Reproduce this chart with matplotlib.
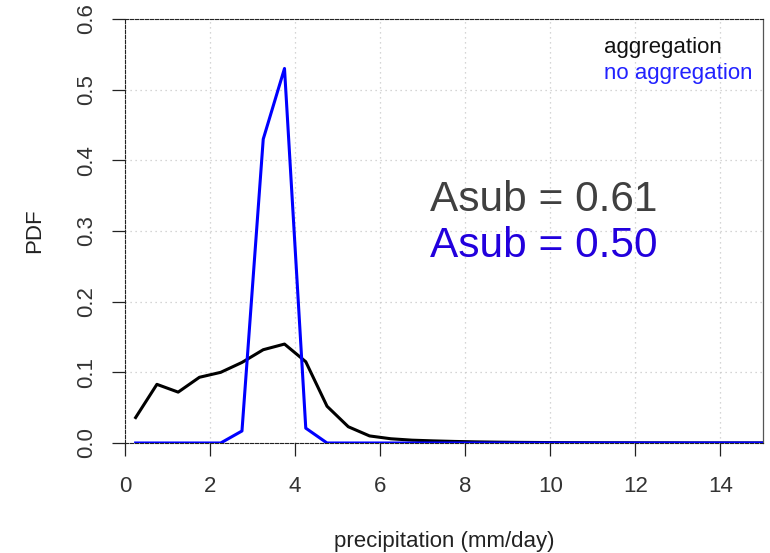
import numpy as np
import matplotlib
matplotlib.use("Agg")
import matplotlib.pyplot as plt

plt.rcParams['font.family'] = ['Liberation Sans', 'DejaVu Sans']

# bin midpoints (mm/day)
precip = [0.25, 0.75, 1.25, 1.75, 2.25, 2.75, 3.25, 3.75, 4.25, 4.75,
          5.25, 5.75, 6.25, 6.75, 7.25, 7.75, 8.25, 8.75, 9.25, 9.75,
          10.25, 10.75, 11.25, 11.75, 12.25, 12.75, 13.25, 13.75, 14.25,
          14.75, 15.25]
pdf_aggregation = [0.036, 0.083, 0.072, 0.093, 0.100, 0.114, 0.132, 0.140,
                   0.115, 0.052, 0.023, 0.010, 0.006, 0.004, 0.003, 0.0022,
                   0.0016, 0.0012, 0.0009, 0.0007, 0.0005, 0.0004, 0.0003,
                   0.0003, 0.0002, 0.0002, 0.0001, 0.0001, 0.0001, 0.0001,
                   0.0001]
pdf_no_aggregation = [0.0, 0.0, 0.0, 0.0, 0.0, 0.017, 0.430, 0.530, 0.021,
                      0.0, 0.0, 0.0, 0.0, 0.0, 0.0, 0.0, 0.0, 0.0, 0.0, 0.0,
                      0.0, 0.0, 0.0, 0.0, 0.0, 0.0, 0.0, 0.0, 0.0, 0.0, 0.0]
legend_labels = ["aggregation", "no aggregation"]
asub_labels = ["Asub = 0.61", "Asub = 0.50"]
x_ticks = [0, 2, 4, 6, 8, 10, 12, 14]
y_ticks = [0.0, 0.1, 0.2, 0.3, 0.4, 0.5, 0.6]

fig = plt.figure(figsize=(7.7, 5.53), dpi=100)
W, H = 770, 553
ax = fig.add_axes([125 / W, 1 - 443 / H, (763 - 125) / W, (443 - 19) / H])

ax.plot(precip, pdf_aggregation, color="black", lw=2.2, zorder=3)
ax.plot(precip, pdf_no_aggregation, color="#0000ff", lw=2.2, zorder=4)

ax.set_xlim(0, 15)
ax.set_ylim(0, 0.6)
ax.set_xticks(x_ticks)
ax.set_yticks(y_ticks)
ax.set_xticklabels([str(t) for t in x_ticks])
ax.set_yticklabels([f"{t:.1f}" for t in y_ticks], rotation=90, va="center")
ax.tick_params(axis="both", direction="out", length=9.4, width=0.9,
               color="#222222", labelsize=16, labelcolor="#333333")
ax.tick_params(axis="x", pad=14)
ax.tick_params(axis="y", pad=11)

ax.grid(True, color="#c8c8c8", linestyle=(0, (1, 3)), lw=0.9, zorder=0)

for side in ("left", "top", "bottom"):
    ax.spines[side].set_linestyle((0, (3, 1.5)))
    ax.spines[side].set_linewidth(0.8)
    ax.spines[side].set_color("#222222")
ax.spines["right"].set_linewidth(0.9)
ax.spines["right"].set_color("#555555")

ax.set_xlabel("precipitation (mm/day)", fontsize=16, color="#222222", labelpad=25)
ax.set_ylabel("PDF", fontsize=16, color="#222222", labelpad=22)


# convert pixel positions (from the top) to display coordinates
def px(x, y):
    return (x, H - y)


# legend-style text labels
ax.text(*px(604, 47), legend_labels[0], transform=None, fontsize=16,
        color="#111111", ha="left", va="center")
ax.text(*px(604, 74), legend_labels[1], transform=None, fontsize=16,
        color="#2222ff", ha="left", va="center")

ax.text(*px(430, 200), asub_labels[0], transform=None, fontsize=30.5,
        color="#404040", ha="left", va="center")
ax.text(*px(430, 246), asub_labels[1], transform=None, fontsize=30.5,
        color="#2200dd", ha="left", va="center")

fig.savefig("out.png", dpi=100)
